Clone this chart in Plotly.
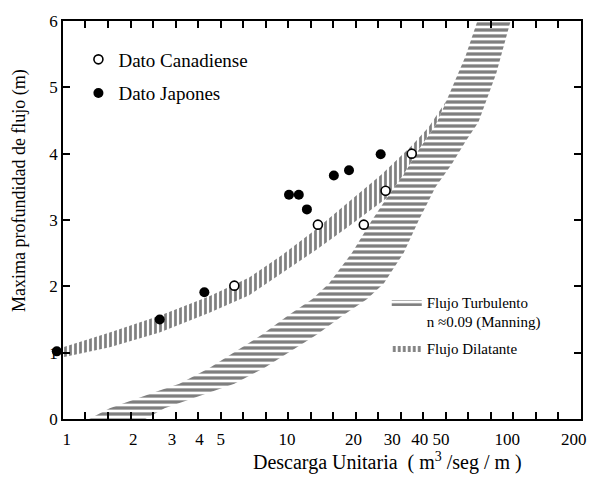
import plotly.graph_objects as go

# ---- data ----
can_x = [5.76, 13.8, 22.3, 28.0, 36.8]
can_y = [2.01, 2.93, 2.93, 3.44, 4.00]

jap_x = [0.90, 2.64, 4.21, 10.2, 11.3, 12.3, 16.3, 19.1, 26.6]
jap_y = [1.02, 1.50, 1.91, 3.38, 3.38, 3.16, 3.67, 3.75, 3.99]

# Flujo Dilatante band (vertical hatching)
dil_up_x = [0.882, 0.959, 1.565, 2.635, 4.437, 6.732, 9.493, 13.53, 19.08, 26.91, 36.78, 43.90, 52.97]
dil_up_y = [1.037, 1.081, 1.304, 1.556, 1.852, 2.133, 2.474, 2.859, 3.274, 3.689, 4.119, 4.400, 4.800]
dil_lo_x = [0.882, 0.959, 1.565, 2.635, 4.437, 6.732, 9.493, 13.53, 19.08, 28.35, 33.83, 39.56, 47.23, 52.97]
dil_lo_y = [0.904, 0.933, 1.081, 1.304, 1.600, 1.867, 2.207, 2.548, 2.904, 3.333, 3.689, 4.059, 4.430, 4.800]

# Flujo Turbulento band (horizontal hatching)
tur_l_x = [1.121, 1.565, 2.635, 3.245, 4.437, 5.878, 7.706, 10.21, 12.98, 15.49, 19.68, 24.24,
           28.35, 33.83, 39.56, 47.23, 52.97, 64.56, 73.14, 75.46]
tur_l_y = [-0.089, 0.163, 0.430, 0.533, 0.770, 1.022, 1.274, 1.570, 1.807, 2.044, 2.504, 2.993,
           3.333, 3.689, 4.059, 4.430, 4.800, 5.467, 6.015, 6.133]
tur_r_x = [105.3, 103.2, 89.17, 73.91, 65.24, 55.80, 47.23, 39.56, 33.83, 27.48, 23.01, 18.11,
           13.67, 10.42, 7.868, 5.757, 4.674, 2.776, 2.031]
tur_r_y = [6.133, 5.985, 5.215, 4.474, 4.207, 3.837, 3.496, 2.993, 2.504, 2.044, 1.807, 1.570,
           1.274, 1.022, 0.770, 0.533, 0.430, 0.163, -0.089]

x_tick_vals = [1, 2, 3, 4, 5, 10, 20, 30, 40, 50, 100, 200]
x_tick_text = ["1", "2", "3", "4", "5", "10", "20", "30", "40", "50", "100", "200"]
y_tick_vals = [0, 1, 2, 3, 4, 5, 6]
n_even_ticks = 23  # evenly spaced tick marks along the frame

FONT = "Liberation Serif"
INK = "#000000"

X0 = 0.01328                    # left edge of framed area inside the plotting region
XR = [-0.0177, 2.3345]          # log10 range of the framed x axis
XR_WIDE = [-0.0494, 2.3345]     # same scale, extended to the full plotting region

fig = go.Figure()

fig.add_trace(go.Scatter(
    x=tur_l_x + tur_r_x, y=tur_l_y + tur_r_y,
    fill="toself", mode="lines", line=dict(width=0, color=INK),
    fillcolor="white",
    fillpattern=dict(shape="-", size=6, solidity=0.55, fgcolor=INK, bgcolor="white"),
    name="Flujo Turbulento<br>n ≈0.09 (Manning)", legend="legend", legendgroup="t",
    hoverinfo="skip",
))
fig.add_trace(go.Scatter(
    x=dil_up_x + dil_lo_x[::-1], y=dil_up_y + dil_lo_y[::-1],
    fill="toself", mode="lines", line=dict(width=0, color=INK),
    fillcolor="white",
    fillpattern=dict(shape="|", size=5, solidity=0.55, fgcolor=INK, bgcolor="white"),
    name="Flujo Dilatante", legend="legend", legendgroup="d", hoverinfo="skip",
))

fig.add_trace(go.Scatter(
    x=can_x, y=can_y, mode="markers", name="Dato Canadiense", legend="legend2",
    legendgroup="c",
    marker=dict(symbol="circle", size=9, color="white", line=dict(color=INK, width=1.6)),
))
fig.add_trace(go.Scatter(
    x=jap_x, y=jap_y, xaxis="x3", yaxis="y", mode="markers", name="Dato Japones",
    legend="legend2", legendgroup="j",
    marker=dict(symbol="circle", size=10, color=INK, line=dict(width=0)),
    cliponaxis=False,
))
# empty trace that carries the evenly spaced tick frame
fig.add_trace(go.Scatter(x=[], y=[], xaxis="x2", yaxis="y2", showlegend=False, hoverinfo="skip"))

fig.update_layout(
    width=598, height=477,
    margin=dict(l=56, r=15, t=14, b=58),
    paper_bgcolor="white", plot_bgcolor="rgba(0,0,0,0)",
    font=dict(family=FONT, size=16, color=INK),
    xaxis=dict(
        type="log", range=XR, domain=[X0, 1], anchor="y",
        tickmode="array", tickvals=x_tick_vals, ticktext=x_tick_text,
        ticks="", showgrid=False, zeroline=False,
        showline=True, linecolor=INK, linewidth=1.5, mirror=True,
        tickfont=dict(family=FONT, size=17, color=INK), ticklabelstandoff=4,
    ),
    yaxis=dict(
        range=[0, 6], domain=[0, 1], anchor="x", tickmode="array", tickvals=y_tick_vals,
        ticks="inside", ticklen=7, tickwidth=1.5, tickcolor=INK,
        showgrid=False, zeroline=False,
        showline=True, linecolor=INK, linewidth=1.5, mirror="ticks",
        tickfont=dict(family=FONT, size=17, color=INK),
    ),
    xaxis2=dict(
        range=[0, n_even_ticks], domain=[X0, 1], anchor="y2", tick0=0, dtick=1,
        ticks="inside", ticklen=7, tickwidth=1.5, tickcolor=INK,
        showticklabels=False, showgrid=False, zeroline=False, showline=False,
        mirror="ticks",
    ),
    yaxis2=dict(range=[0, 6], domain=[0, 1], anchor="x2", visible=False),
    xaxis3=dict(type="log", range=XR_WIDE, domain=[0, 1], anchor="y", visible=False),
    legend=dict(
        x=0.630, y=0.335, xanchor="left", yanchor="top",
        bgcolor="rgba(0,0,0,0)", font=dict(family=FONT, size=15, color=INK),
        itemwidth=30, valign="top", traceorder="grouped", tracegroupgap=4,
    ),
    legend2=dict(
        x=0.0427, y=0.951, xanchor="left", yanchor="top",
        bgcolor="rgba(0,0,0,0)", font=dict(family=FONT, size=19, color=INK),
        itemwidth=30, traceorder="grouped", tracegroupgap=6,
    ),
    showlegend=True,
    annotations=[
        dict(text="Descarga Unitaria  ( m<sup>3</sup> /seg / m )", xref="paper", yref="paper",
             x=0.632, y=-0.106, xanchor="center", yanchor="middle", showarrow=False,
             font=dict(family=FONT, size=20, color=INK)),
        dict(text="Maxima profundidad de flujo (m)", xref="paper", yref="paper",
             x=-0.0683, y=0.573, xanchor="center", yanchor="middle", showarrow=False,
             textangle=-90, font=dict(family=FONT, size=18, color=INK)),
    ],
)

fig.write_html("out.html")
